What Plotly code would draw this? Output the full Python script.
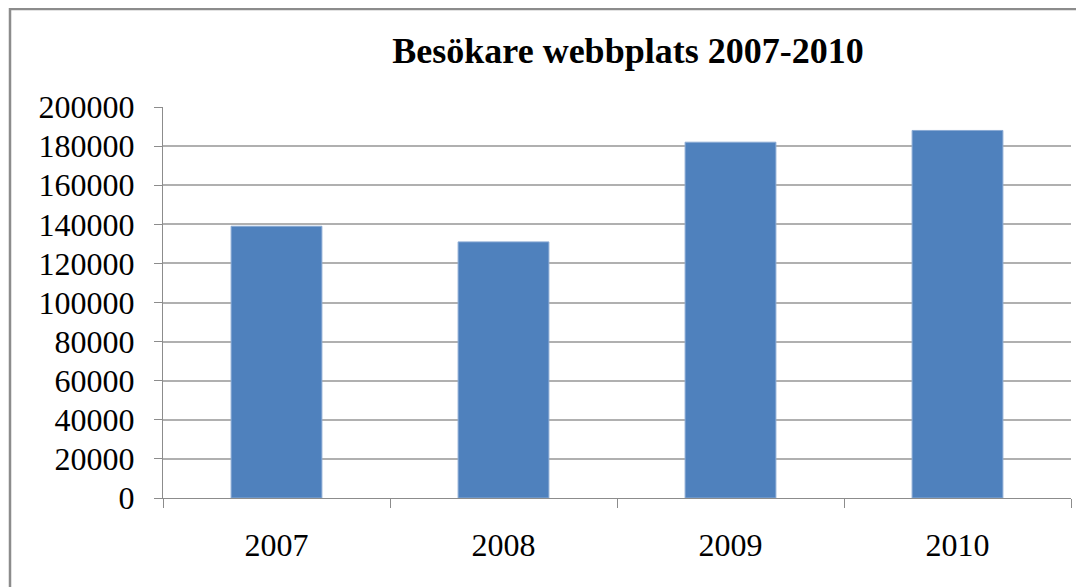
import plotly.graph_objects as go

years = ["2007", "2008", "2009", "2010"]
visitors = [139000, 131000, 182000, 188000]
y_ticks = list(range(0, 200001, 20000))

# page body has an 8px margin, so the figure is drawn offset by (8, 8)
W, H = 1076, 579
L, R, T, B = 155, 13, 99, 89

fig = go.Figure(go.Bar(
    x=years, y=visitors, width=0.4,
    marker=dict(color="#4f81bd", line=dict(color="#8aaad4", width=1)),
))

pw = W - L - R
ph = H - T - B
bx0 = (2 - L) / pw
by1 = (H - B - 1) / ph

FONT = "Liberation Serif, Times New Roman, serif"

fig.update_layout(
    width=W, height=H,
    margin=dict(l=L, r=R, t=T, b=B),
    paper_bgcolor="white", plot_bgcolor="white",
    showlegend=False,
    font=dict(family=FONT, color="black", size=32),
    title=dict(text="<b>Besökare webbplats 2007-2010</b>", x=620 / W, xanchor="center",
               y=1 - 42 / H, yanchor="middle", yref="container",
               font=dict(size=36, family=FONT, color="black")),
    xaxis=dict(type="category", showline=True, linecolor="#8c8c8c", linewidth=1,
               ticks="outside", tickson="boundaries", ticklen=9, tickcolor="#8c8c8c",
               ticklabelstandoff=19, showgrid=False, range=[-0.5, 3.5]),
    yaxis=dict(range=[0, 200000], tickvals=y_ticks, ticktext=[str(v) for v in y_ticks],
               showline=True, linecolor="#8c8c8c", linewidth=1,
               ticks="outside", ticklen=8, tickcolor="#8c8c8c",
               showgrid=True, gridcolor="#b0b0b0", gridwidth=1.5,
               ticklabelstandoff=13, zeroline=False),
    shapes=[dict(type="rect", xref="paper", yref="paper",
                 x0=bx0, x1=1.2, y0=-0.5, y1=by1,
                 line=dict(color="#8c8c8c", width=2.5), fillcolor="rgba(0,0,0,0)", layer="below")],
)

fig.write_html("out.html")
